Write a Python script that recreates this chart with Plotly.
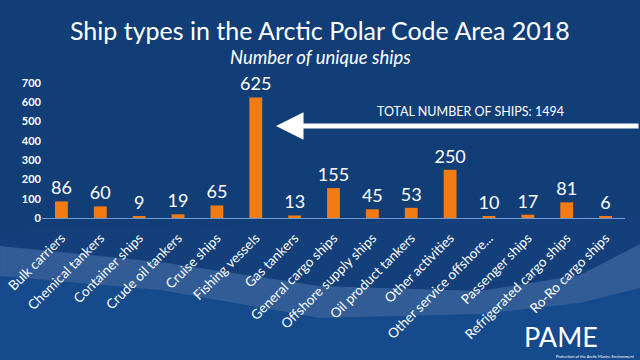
import plotly.graph_objects as go

categories = ["Bulk carriers", "Chemical tankers", "Container ships", "Crude oil tankers",
              "Cruise ships", "Fishing vessels", "Gas tankers", "General cargo ships",
              "Offshore supply ships", "Oil product tankers", "Other activities",
              "Other service offshore...", "Passenger ships", "Refrigerated cargo ships",
              "Ro-Ro cargo ships"]
values = [86, 60, 9, 19, 65, 625, 13, 155, 45, 53, 250, 10, 17, 81, 6]
y_ticks = [0, 100, 200, 300, 400, 500, 600, 700]
total_text = "TOTAL NUMBER OF SHIPS: 1494"

W, H = 640, 360
L, R, T, B = 42, 15, 83, 142
pw, ph = W - L - R, H - T - B

def px(x):
    return (x - L) / pw

def py(y):
    return (H - B - y) / ph

def mkpath(pts):
    return "M " + " L ".join(f"{px(x):.4f},{py(y):.4f}" for x, y in pts) + " Z"

FONT = "Lato"

fig = go.Figure()
fig.add_trace(go.Bar(
    x=categories, y=values, width=0.33,
    marker=dict(color="#f47b12", line=dict(width=0)),
    text=values, textposition="outside", cliponaxis=False, constraintext="none",
    textfont=dict(family=FONT, size=18, color="white"),
))

# decorative wave band
top = [(0, 246), (160, 262), (320, 286), (480, 291), (580, 275), (640, 244)]
bot = [(640, 288), (580, 303), (480, 314), (320, 318), (160, 290), (0, 276)]
lower = [(0, 276), (160, 290), (320, 318), (480, 314), (580, 303), (640, 288), (640, 360), (0, 360)]
upper = [(0, 230), (640, 215), (640, 244), (580, 275), (480, 291), (320, 286), (160, 262), (0, 246)]
shapes = [
    dict(type="path", xref="paper", yref="paper", path=mkpath(upper),
         fillcolor="#133f7a", line=dict(width=0), layer="below"),
    dict(type="path", xref="paper", yref="paper", path=mkpath(lower),
         fillcolor="#154a8c", line=dict(width=0), layer="below"),
    dict(type="path", xref="paper", yref="paper", path=mkpath(top + bot),
         fillcolor="rgba(110,150,205,0.35)", line=dict(width=0), layer="below"),
]

fig.update_layout(
    width=W, height=H,
    margin=dict(l=L, r=R, t=T, b=B, autoexpand=False),
    paper_bgcolor="#123e77", plot_bgcolor="rgba(0,0,0,0)",
    showlegend=False,
    bargap=0.6,
    uniformtext=dict(minsize=18, mode="show"),
    shapes=shapes,
    xaxis=dict(tickangle=-45, tickfont=dict(family=FONT, size=13.5, color="white"),
               showgrid=False, showline=True, linecolor="#6d9ad6", linewidth=1,
               ticks="", ticklabelstandoff=6, automargin=False, fixedrange=True),
    yaxis=dict(range=[0, 700], tickvals=y_ticks,
               tickfont=dict(family=FONT, size=11, color="white", weight="bold"),
               showgrid=False, zeroline=False, showline=False, ticks="",
               automargin=False, fixedrange=True),
    annotations=[
        dict(text="Ship types in the Arctic Polar Code Area 2018", xref="paper", yref="paper",
             x=px(320), y=py(30), showarrow=False, xanchor="center", yanchor="middle",
             font=dict(family=FONT, size=25, color="white")),
        dict(text="<i>Number of unique ships</i>", xref="paper", yref="paper",
             x=px(320), y=py(57), showarrow=False, xanchor="center", yanchor="middle",
             font=dict(family=FONT, size=18.5, color="white")),
        dict(text=total_text, xref="paper", yref="paper",
             x=px(471), y=py(111), showarrow=False, xanchor="center", yanchor="middle",
             font=dict(family=FONT, size=12.5, color="white")),
        dict(text="", xref="paper", yref="paper", axref="pixel", ayref="pixel",
             x=px(276), y=py(126), ax=364, ay=0,
             showarrow=True, arrowhead=2, arrowsize=1.1, arrowwidth=5, arrowcolor="white"),
        dict(text="PAME", xref="paper", yref="paper", x=px(561), y=py(336),
             showarrow=False, xanchor="center", yanchor="middle",
             font=dict(family=FONT, size=27, color="white")),
        dict(text="Protection of the Arctic Marine Environment", xref="paper", yref="paper",
             x=px(595), y=py(356.5), showarrow=False, xanchor="center", yanchor="middle",
             font=dict(family=FONT, size=4, color="white")),
    ],
)

fig.write_html("out.html", config={"displayModeBar": False})
